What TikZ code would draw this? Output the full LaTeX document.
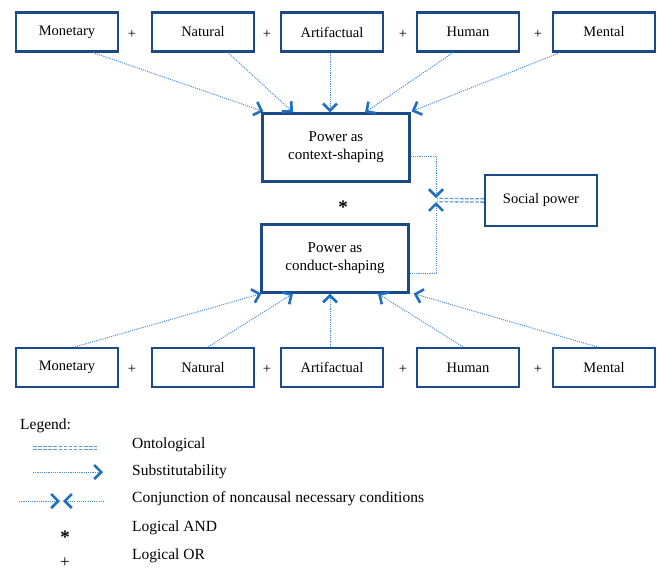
\documentclass[tikz,border=0pt]{standalone}
\usepackage{fontspec}
\setmainfont{Liberation Serif}
\usetikzlibrary{arrows.meta}
\definecolor{boxcol}{HTML}{1B4A8A}
\definecolor{linecol}{HTML}{4A8FD6}
\definecolor{tipcol}{HTML}{1F6EBF}
\definecolor{dblcol}{HTML}{5B9BD5}
\tikzset{
  box/.style={draw=boxcol, line width=2.2pt, minimum width=102pt, minimum height=39pt, inner sep=2pt, align=center, font=\fontsize{14.5}{17}\selectfont},
  bigbox/.style={box, minimum width=147pt, minimum height=68pt, font=\fontsize{15}{18}\selectfont},
  conn/.style={draw=linecol, line width=1pt, dash pattern=on 1.1pt off 1.1pt, -{Straight Barb[length=7pt,width=14pt,line width'=2.6pt,color=tipcol]}},
  onto/.style={draw=dblcol, line width=1.3pt, double=white, double distance=2pt, dash pattern=on 3.5pt off 1.6pt},
  lbl/.style={font=\fontsize{14.5}{17}\selectfont, inner sep=0pt},
  starlbl/.style={font=\fontsize{19}{20}\bfseries, inner sep=0pt},
  leglbl/.style={font=\fontsize{15.5}{18}\selectfont, inner sep=0pt, anchor=west},
}
\begin{document}
\begin{tikzpicture}[x=1pt,y=-1pt]
\useasboundingbox (0,0) rectangle (657,571);
% top row
\node[box] (t1) at (67,32) {Monetary};
\node[box] (t2) at (203,32) {Natural};
\node[box] (t3) at (332,32) {Artifactual};
\node[box] (t4) at (468,32) {Human};
\node[box] (t5) at (604,32) {Mental};
\node[lbl] (tp1) at (132,34) {+};
\node[lbl] (tp2) at (267,34) {+};
\node[lbl] (tp3) at (403,34) {+};
\node[lbl] (tp4) at (538,34) {+};
% bottom row
\node[box] (b1) at (67,367.5) {Monetary};
\node[box] (b2) at (203,367.5) {Natural};
\node[box] (b3) at (332,367.5) {Artifactual};
\node[box] (b4) at (468,367.5) {Human};
\node[box] (b5) at (604,367.5) {Mental};
\node[lbl] (bp1) at (132,369) {+};
\node[lbl] (bp2) at (267,369) {+};
\node[lbl] (bp3) at (403,369) {+};
\node[lbl] (bp4) at (538,369) {+};
% central
\node[bigbox] (ctx) at (336,147.5) {Power as\\context-shaping};
\node[bigbox] (cnd) at (335,258.5) {Power as\\conduct-shaping};
\node[box, minimum width=112pt, minimum height=51pt] (sp) at (541,200.5) {Social power};
\node[starlbl] (star) at (343,207) {*};
% top arrows
\draw[conn] ([xshift=26pt]t1.south) -- ([xshift=2pt,yshift=1pt]ctx.north west);
\draw[conn] ([xshift=25pt]t2.south) -- ([xshift=-43pt]ctx.north);
\draw[conn] ([xshift=-2pt]t3.south) -- ([xshift=-6pt]ctx.north);
\draw[conn] ([xshift=-15pt]t4.south) -- ([xshift=29pt]ctx.north);
\draw[conn] ([xshift=-44pt]t5.south) -- ([xshift=1pt,yshift=1pt]ctx.north east);
% bottom arrows
\draw[conn] ([xshift=8pt]b1.north) -- ([xshift=1pt]cnd.south west);
\draw[conn] ([xshift=5pt]b2.north) -- ([xshift=-42pt]cnd.south);
\draw[conn] ([xshift=-2pt]b3.north) -- ([xshift=-5pt]cnd.south);
\draw[conn] ([xshift=-5pt]b4.north) -- ([xshift=43pt]cnd.south);
\draw[conn] ([xshift=-7pt]b5.north) -- ([xshift=4pt]cnd.south east);
% social power junction
\coordinate (jt) at (436,198);
\coordinate (jb) at (436,202);
\coordinate (jm) at (437,200);
\draw[conn] ([yshift=-8.5pt]ctx.east) -| (jt);
\draw[conn] ([yshift=-14.5pt]cnd.east) -| (jb);
\draw[onto] (sp.west) -- (jm);
% legend
\node[leglbl] (leg) at (20,426) {Legend:};
\coordinate (o1) at (33,448); \coordinate (o2) at (97,448);
\draw[onto] (o1) -- (o2);
\node[leglbl] (lo) at (132,445) {Ontological};
\coordinate (s1) at (33,472); \coordinate (s2) at (103,472);
\draw[conn] (s1) -- (s2);
\node[leglbl] (ls) at (132,472) {Substitutability};
\coordinate (c1) at (19,501); \coordinate (c2) at (60,501);
\coordinate (c3) at (104,501); \coordinate (c4) at (63,501);
\draw[conn] (c1) -- (c2);
\draw[conn] (c3) -- (c4);
\node[leglbl] (lc) at (132,499) {Conjunction of noncausal necessary conditions};
\node[starlbl] (lstar) at (65,537) {*};
\node[leglbl] (la) at (132,528) {Logical AND};
\node[lbl, font=\fontsize{17}{18}\selectfont] (lplus) at (65,563) {+};
\node[leglbl] (lor) at (132,556) {Logical OR};
\end{tikzpicture}
\end{document}
